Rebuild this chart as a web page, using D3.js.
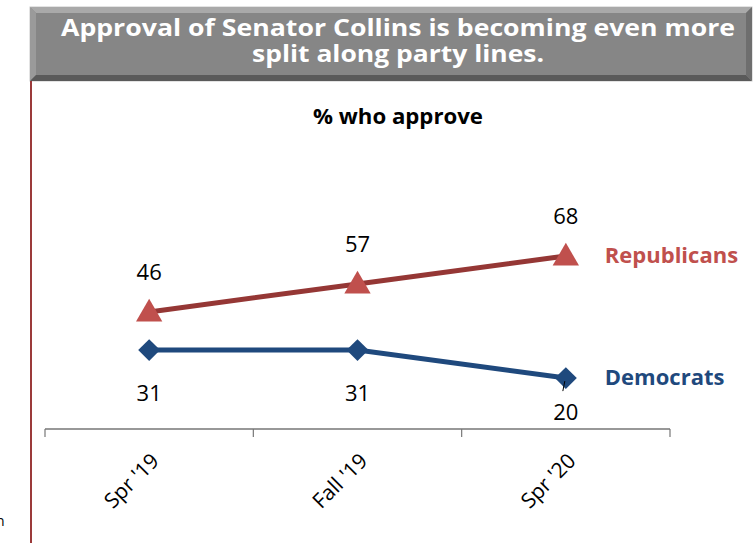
<!DOCTYPE html>
<html>
<head>
<meta charset="utf-8">
<script src="https://cdn.jsdelivr.net/npm/d3@7"></script>
<style>
  body { margin: 0; background: #fff; }
  svg { display: block; font-family: "Open Sans", "Noto Sans", sans-serif; }
</style>
</head>
<body>
<svg id="chart" width="755" height="543"></svg>
<script>
// survey waves
var waves = ["Spr '19", "Fall '19", "Spr '20"];
var republicans = [46, 57, 68];
var democrats = [31, 31, 20];
var seriesNames = ["Republicans", "Democrats"];
var titleLines = ["Approval of Senator Collins is becoming even more", "split along party lines."];
var subtitle = "% who approve";

var svg = d3.select("#chart");
var width = 755, height = 543;

// banner
var bx = 30, by = 7, bw = 722, bh = 74, bev = 6;
var banner = svg.append("g");
banner.append("rect").attr("x", bx).attr("y", by).attr("width", bw).attr("height", bh)
  .attr("fill", "#868686").attr("stroke", "#c8c8c8").attr("stroke-width", 1);
// bevel edges
var bevels = [
  {pts: [[bx,by],[bx+bw,by],[bx+bw-bev,by+bev],[bx+bev,by+bev]], c: "#a9a9a9"},
  {pts: [[bx,by],[bx+bev,by+bev],[bx+bev,by+bh-bev],[bx,by+bh]], c: "#9a9a9a"},
  {pts: [[bx,by+bh],[bx+bev,by+bh-bev],[bx+bw-bev,by+bh-bev],[bx+bw,by+bh]], c: "#5a5a5a"},
  {pts: [[bx+bw,by],[bx+bw,by+bh],[bx+bw-bev,by+bh-bev],[bx+bw-bev,by+bev]], c: "#6e6e6e"}
];
banner.selectAll("polygon").data(bevels).enter().append("polygon")
  .attr("points", function(d){ return d.pts.map(function(p){ return p.join(","); }).join(" "); })
  .attr("fill", function(d){ return d.c; });

var titleWidths = [674, 292];
banner.selectAll("text.title").data(titleLines).enter().append("text")
  .attr("class", "title")
  .attr("x", 398).attr("y", function(d, i){ return 36 + i * 26; })
  .attr("text-anchor", "middle")
  .attr("fill", "#fff").attr("font-weight", "bold").attr("font-size", 23)
  .attr("textLength", function(d, i){ return titleWidths[i]; })
  .attr("lengthAdjust", "spacingAndGlyphs")
  .text(function(d){ return d; });

// left rule
svg.append("line").attr("x1", 31).attr("x2", 31).attr("y1", by + bh).attr("y2", height)
  .attr("stroke", "#9b3a3a").attr("stroke-width", 2);

// stray fragment at the page edge
svg.append("text").attr("x", -4).attr("y", 526).attr("font-size", 14).attr("fill", "#000").text("n");

// subtitle
svg.append("text").attr("x", 398).attr("y", 124).attr("text-anchor", "middle")
  .attr("font-weight", "bold").attr("font-size", 21).attr("fill", "#000")
  .attr("textLength", 170).attr("lengthAdjust", "spacingAndGlyphs")
  .text(subtitle);

// scales
var x = d3.scaleBand().domain(waves).range([45, 670]).paddingInner(0).paddingOuter(0);
var y = d3.scaleLinear().domain([0, 100]).range([429, 174.5]);
function cx(d){ return x(d) + x.bandwidth() / 2; }

// axis
var axis = svg.append("g");
axis.append("line").attr("x1", x.range()[0]).attr("x2", x.range()[1])
  .attr("y1", y(0)).attr("y2", y(0)).attr("stroke", "#333").attr("stroke-width", 1.2);
var tickPos = waves.map(function(d){ return x(d); }).concat([x.range()[1]]);
axis.selectAll("line.tick").data(tickPos).enter().append("line")
  .attr("class", "tick")
  .attr("x1", function(d){ return d; }).attr("x2", function(d){ return d; })
  .attr("y1", y(0)).attr("y2", y(0) + 8)
  .attr("stroke", "#777").attr("stroke-width", 1.2);
axis.selectAll("text").data(waves).enter().append("text")
  .attr("transform", function(d){ return "translate(" + (cx(d) + 6) + "," + (y(0) + 28) + ") rotate(-45)"; })
  .attr("text-anchor", "end").attr("dy", "0.35em")
  .attr("font-size", 21).attr("fill", "#000")
  .text(function(d){ return d; });

var line = d3.line().x(function(d){ return cx(d.w); }).y(function(d){ return y(d.v); });

function points(vals){ return vals.map(function(v, i){ return {w: waves[i], v: v, i: i}; }); }

// Democrats
var dem = points(democrats);
svg.append("path").datum(dem).attr("d", line).attr("fill", "none")
  .attr("stroke", "#1f497d").attr("stroke-width", 5);
svg.selectAll("path.dmark").data(dem).enter().append("path")
  .attr("class", "dmark")
  .attr("d", d3.symbol().type(d3.symbolSquare).size(240))
  .attr("transform", function(d){ return "translate(" + cx(d.w) + "," + y(d.v) + ") rotate(45)"; })
  .attr("fill", "#1f497d");

// Republicans
var rep = points(republicans);
svg.append("path").datum(rep).attr("d", line).attr("fill", "none")
  .attr("stroke", "#953735").attr("stroke-width", 5);
svg.selectAll("path.rmark").data(rep).enter().append("path")
  .attr("class", "rmark")
  .attr("d", d3.symbol().type(d3.symbolTriangle).size(300))
  .attr("transform", function(d){ return "translate(" + cx(d.w) + "," + (y(d.v) + 2) + ")"; })
  .attr("fill", "#c0504d");

// value labels
svg.selectAll("text.rlab").data(rep).enter().append("text")
  .attr("class", "rlab")
  .attr("x", function(d){ return cx(d.w); }).attr("y", function(d){ return y(d.v) - 32; })
  .attr("text-anchor", "middle").attr("font-size", 22).attr("fill", "#000")
  .text(function(d){ return d.v; });

var lastIdx = dem.length - 1;
svg.selectAll("text.dlab").data(dem).enter().append("text")
  .attr("class", "dlab")
  .attr("x", function(d){ return cx(d.w); })
  .attr("y", function(d){ return y(d.v) + (d.i === lastIdx ? 42 : 51); })
  .attr("text-anchor", "middle").attr("font-size", 22).attr("fill", "#000")
  .text(function(d){ return d.v; });
// leader line for the last democrat label
var dl = dem[lastIdx];
svg.append("line")
  .attr("x1", cx(dl.w) - 3).attr("y1", y(dl.v) + 13)
  .attr("x2", cx(dl.w) - 1).attr("y2", y(dl.v) + 3)
  .attr("stroke", "#000").attr("stroke-width", 1);

// series labels
var seriesColors = ["#c0504d", "#1f497d"];
var lastVals = [republicans[republicans.length - 1], democrats[democrats.length - 1]];
svg.selectAll("text.series").data(seriesNames).enter().append("text")
  .attr("class", "series")
  .attr("x", cx(waves[waves.length - 1]) + 39)
  .attr("y", function(d, i){ return y(lastVals[i]) + 7; })
  .attr("font-size", 22).attr("font-weight", "bold")
  .attr("fill", function(d, i){ return seriesColors[i]; })
  .text(function(d){ return d; });
</script>
</body>
</html>
